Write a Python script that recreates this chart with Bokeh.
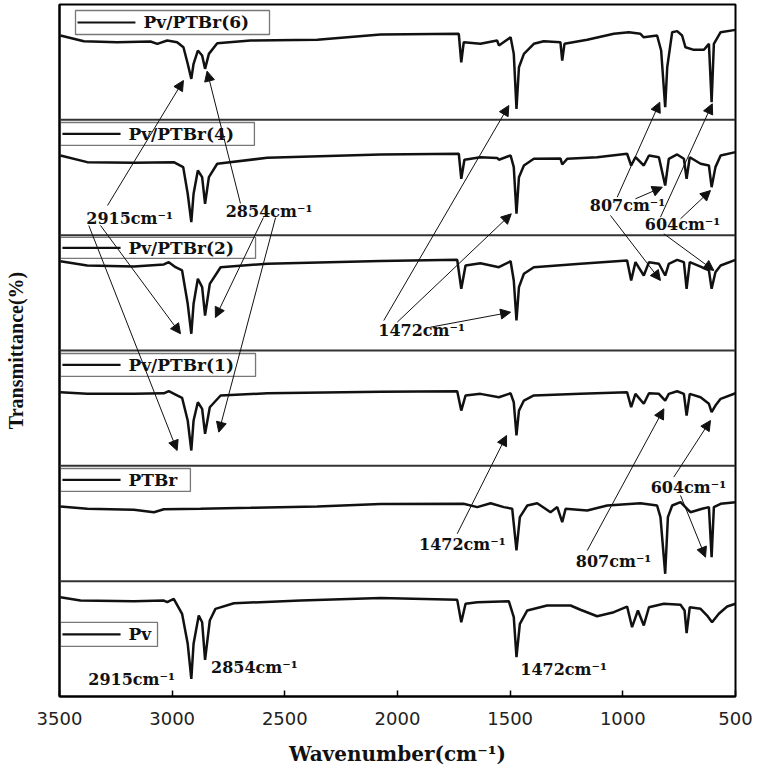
from bokeh.plotting import figure
from bokeh.models import Range1d, FixedTicker, Span, Arrow, NormalHead, ColumnDataSource
from bokeh.core.properties import value
from bokeh.embed import file_html
from bokeh.resources import INLINE

# ---------------- data (transmittance in % of each panel's height) ----------------
pv_wn = [3496, 3407, 3170, 3037, 3022, 2993, 2956, 2931, 2915, 2905, 2882, 2867, 2854, 2833, 2808, 2726,
         2430, 2075, 1735, 1717, 1698, 1646, 1506, 1484, 1472, 1457, 1424, 1336, 1232, 1188, 1114, 1040,
         981, 959, 933, 907, 884, 818, 744, 726, 717, 703, 655, 626, 604, 574, 537, 500]
pv_t = [86.1, 83.2, 82.6, 83.2, 81.8, 84.7, 71.7, 45.7, 15.3, 45.7, 70.2, 64.4, 31.8, 65.9, 76.0, 80.9,
        83.2, 85.4, 83.8, 64.4, 80.4, 81.8, 82.6, 68.8, 34.1, 63.0, 74.6, 78.9, 78.9, 75.2, 69.6, 73.1,
        78.0, 60.1, 74.6, 61.6, 77.4, 80.4, 79.5, 74.6, 54.9, 77.4, 76.0, 70.2, 64.4, 71.7, 78.0, 80.4]

ptbr_wn = [3496, 3377, 3170, 3081, 3037, 2874, 2652, 2356, 2075, 1707, 1646, 1587, 1528, 1491, 1472, 1457,
           1424, 1380, 1321, 1291, 1269, 1254, 1158, 1069, 922, 848, 833, 812, 800, 781, 744, 700, 648,
           618, 606, 596, 566, 500]
ptbr_t = [64.8, 62.8, 61.9, 59.8, 62.4, 62.8, 63.6, 64.8, 66.8, 67.1, 64.2, 67.6, 64.2, 62.8, 26.6, 55.5,
          65.6, 67.6, 59.8, 64.2, 51.2, 62.8, 61.3, 65.6, 67.6, 65.6, 55.5, 6.4, 55.5, 65.6, 68.5, 59.8, 62.8,
          64.2, 20.8, 64.2, 67.1, 68.5]

pv_ptbr1_wn = [3496, 3377, 3170, 3037, 3015, 2985, 2956, 2931, 2915, 2905, 2886, 2867, 2854, 2833, 2785,
               2578, 2075, 1735, 1717, 1698, 1632, 1550, 1498, 1484, 1472, 1461, 1439, 1395, 1188, 981, 963,
               944, 907, 884, 840, 812, 796, 759, 729, 717, 703, 655, 618, 606, 589, 566, 500]
pv_ptbr1_t = [63.8, 62.4, 62.4, 62.9, 64.7, 61.8, 59.0, 39.3, 13.3, 39.3, 55.1, 49.4, 27.7, 50.8, 61.0,
              62.9, 64.2, 64.7, 47.9, 61.0, 62.4, 59.5, 62.9, 55.1, 26.3, 47.9, 56.6, 61.0, 62.4, 63.8, 50.8,
              62.4, 53.8, 62.9, 62.4, 56.6, 62.4, 64.7, 62.4, 43.6, 62.4, 59.5, 53.8, 46.5, 52.3, 58.1, 62.9]

pv_ptbr2_wn = [3496, 3377, 3170, 3037, 3015, 2985, 2956, 2931, 2915, 2905, 2886, 2867, 2854, 2833, 2785,
               2578, 2075, 1735, 1717, 1698, 1632, 1550, 1498, 1484, 1472, 1461, 1439, 1395, 1188, 981, 963,
               944, 907, 884, 840, 812, 796, 759, 729, 717, 703, 655, 618, 606, 589, 566, 500]
pv_ptbr2_t = [77.4, 73.7, 72.8, 74.6, 76.6, 72.2, 69.4, 40.5, 14.5, 40.5, 62.2, 54.9, 30.3, 57.8, 72.2,
              75.2, 77.7, 78.6, 53.5, 73.7, 75.7, 72.2, 77.4, 60.7, 26.0, 54.9, 66.5, 72.2, 75.2, 78.0, 60.7,
              76.6, 65.0, 76.6, 75.2, 65.0, 75.2, 78.6, 76.6, 53.5, 76.6, 72.8, 69.4, 53.5, 67.9, 73.7, 78.6]

pv_ptbr4_wn = [3496, 3377, 3170, 2993, 2951, 2931, 2915, 2905, 2886, 2867, 2854, 2837, 2800, 2578, 2075,
               1728, 1717, 1703, 1632, 1558, 1550, 1498, 1484, 1472, 1461, 1439, 1395, 1277, 1269, 1247,
               1114, 981, 963, 944, 907, 884, 840, 812, 796, 759, 729, 717, 703, 655, 618, 606, 589, 566, 500]
pv_ptbr4_t = [69.1, 63.3, 62.8, 63.3, 59.0, 35.9, 11.3, 35.9, 56.1, 50.3, 27.2, 50.3, 61.9, 67.1, 70.0,
              70.6, 48.9, 65.4, 67.6, 67.0, 65.4, 69.1, 59.0, 18.6, 50.3, 60.4, 66.2, 66.5, 61.3, 66.2,
              67.6, 70.6, 60.4, 67.6, 60.4, 69.1, 67.6, 43.1, 66.2, 70.0, 66.2, 48.9, 67.6, 61.9, 60.4, 41.6,
              59.0, 69.1, 72.0]

pv_ptbr6_wn = [3496, 3392, 3244, 3096, 3066, 3022, 2978, 2950, 2931, 2915, 2905, 2886, 2867, 2854, 2837,
               2800, 2652, 2356, 2075, 1728, 1717, 1706, 1632, 1558, 1550, 1498, 1484, 1472, 1461, 1439,
               1395, 1351, 1277, 1269, 1259, 1158, 1040, 973, 922, 907, 848, 830, 812, 803, 781, 759, 737,
               722, 685, 640, 618, 606, 596, 566, 500]
pv_ptbr6_t = [73.1, 68.2, 67.3, 67.9, 65.9, 68.8, 67.3, 62.9, 48.6, 35.5, 48.6, 60.1, 55.8, 44.2, 57.2,
              66.4, 68.8, 69.4, 74.0, 74.6, 49.9, 67.3, 65.9, 68.8, 64.5, 71.6, 57.2, 9.5, 45.6, 57.2,
              65.9, 68.2, 67.3, 51.4, 65.9, 69.4, 74.6, 76.0, 74.6, 71.6, 73.1, 60.1, 10.9, 45.6, 76.0, 76.9,
              73.1, 62.9, 60.7, 60.7, 65.9, 15.3, 65.9, 76.0, 78.0]

series_names = ["Pv", "PTBr", "Pv/PTBr(1)", "Pv/PTBr(2)", "Pv/PTBr(4)", "Pv/PTBr(6)"]
series_wn = [pv_wn, ptbr_wn, pv_ptbr1_wn, pv_ptbr2_wn, pv_ptbr4_wn, pv_ptbr6_wn]
series_t = [pv_t, ptbr_t, pv_ptbr1_t, pv_ptbr2_t, pv_ptbr4_t, pv_ptbr6_t]

x_ticks = [3500, 3000, 2500, 2000, 1500, 1000, 500]

# ---------------- annotations (data coordinates: wavenumber, stacked panel units) ----------------
ann_text = ["2915cm⁻¹", "2854cm⁻¹", "807cm⁻¹", "604cm⁻¹", "1472cm⁻¹", "604cm⁻¹", "1472cm⁻¹", "807cm⁻¹",
            "2915cm⁻¹", "2854cm⁻¹", "1472cm⁻¹"]
ann_x = [3189, 2570, 979, 735, 1893, 709, 1712, 1041, 3180, 2635, 1263]
ann_y = [4.145, 4.205, 4.257, 4.093, 3.174, 1.812, 1.318, 1.171, 0.147, 0.251, 0.234]

arr_x0 = [3287, 3318, 3370, 2697, 2595, 2541, 1025, 944, 1055, 833, 744, 818, 2061, 2001, 1854, 1735, 1158, 774, 744]
arr_y0 = [4.257, 4.084, 4.084, 4.275, 4.153, 4.153, 4.329, 4.315, 4.171, 4.156, 4.142, 4.012, 3.260, 3.246,
          3.202, 1.411, 1.266, 1.902, 1.743]
arr_x1 = [2950, 2963, 2978, 2845, 2808, 2793, 836, 825, 833, 603, 611, 596, 1506, 1495, 1498, 1516, 818, 611, 633]
arr_y1 = [5.341, 3.145, 2.133, 5.422, 3.286, 2.292, 5.153, 4.416, 3.607, 5.139, 4.387, 3.694, 5.124, 4.185,
          3.332, 2.263, 2.494, 2.393, 1.208]

leg_left = [3496, 3496, 3496, 3496, 3496, 3429]
leg_right = [3065, 2919, 2630, 2630, 2635, 2568]
leg_top = [0.642, 1.977, 2.974, 3.980, 4.977, 5.948]
leg_bottom = [0.434, 1.778, 2.775, 3.798, 4.778, 5.740]
leg_line_x0 = [3487, 3487, 3487, 3487, 3487, 3420]
leg_line_x1 = [3229, 3229, 3229, 3229, 3229, 3163]
leg_text_x = [3194, 3194, 3194, 3194, 3194, 3127]

p = figure(width=755, height=769, output_backend="svg", toolbar_location=None,
           x_range=Range1d(3500, 500), y_range=Range1d(0, 6),
           min_border_left=59, min_border_right=20, min_border_top=4, min_border_bottom=73)
p.background_fill_color = "white"
p.border_fill_color = "white"
p.outline_line_color = "black"
p.outline_line_width = 2
p.xgrid.visible = False
p.ygrid.visible = False

ax = p.xaxis[0]
ax.ticker = FixedTicker(ticks=x_ticks, minor_ticks=[])
ax.major_tick_in = 6
ax.major_tick_out = 0
ax.major_tick_line_width = 1.5
ax.minor_tick_line_color = None
ax.axis_line_width = 2
ax.major_label_text_font = "DejaVu Sans"
ax.major_label_text_font_size = "18px"
ax.major_label_text_color = "#222222"
ax.major_label_standoff = 15
ax.axis_label = "Wavenumber(cm⁻¹)"
ax.axis_label_text_font = "DejaVu Serif"
ax.axis_label_text_font_style = "bold"
ax.axis_label_text_font_size = "20px"
ax.axis_label_text_color = "#111111"
ax.axis_label_standoff = 14

ay = p.yaxis[0]
ay.ticker = FixedTicker(ticks=[], minor_ticks=[])
ay.major_tick_in = 0
ay.major_tick_out = 0
ay.major_label_standoff = 0
ay.axis_line_width = 2
ay.axis_label = "Transmittance(%)"
ay.axis_label_text_font = "Liberation Serif"
ay.axis_label_text_font_style = "bold"
ay.axis_label_text_font_size = "20px"
ay.axis_label_text_color = "#111111"
ay.axis_label_standoff = 33

# panel separators
for k in range(1, 6):
    p.add_layout(Span(location=k, dimension="width", line_color="#333333", line_width=2))

# spectra
for k, (wn, t) in enumerate(zip(series_wn, series_t)):
    p.line(wn, [k + v / 100.0 for v in t], line_color="#111111", line_width=2.5)

# legend boxes
p.quad(left=leg_left, right=leg_right, top=leg_top, bottom=leg_bottom,
       fill_color="white", line_color="#777777", line_width=1.3)
leg_mid = [(a + b) / 2 for a, b in zip(leg_top, leg_bottom)]
p.segment(x0=leg_line_x0, y0=leg_mid, x1=leg_line_x1, y1=leg_mid, line_color="#111111", line_width=2.2)
p.text(x=leg_text_x, y=leg_mid, text=series_names, text_font=value("DejaVu Serif"),
       text_font_style="bold", text_font_size="17px", text_align="left", text_baseline="middle",
       text_color="#111111")

# peak labels
p.text(x=ann_x, y=ann_y, text=ann_text, text_font=value("DejaVu Serif"), text_font_style="bold",
       text_font_size="16px", text_align="center", text_baseline="middle", text_color="#111111")

arr_src = ColumnDataSource(dict(x0=arr_x0, y0=arr_y0, x1=arr_x1, y1=arr_y1))
p.add_layout(Arrow(source=arr_src, x_start="x0", y_start="y0", x_end="x1", y_end="y1",
                   line_color="#111111", line_width=1,
                   end=NormalHead(size=10, fill_color="#111111", line_color="#111111", line_width=1)))

open("out.html", "w").write(file_html(p, INLINE))
